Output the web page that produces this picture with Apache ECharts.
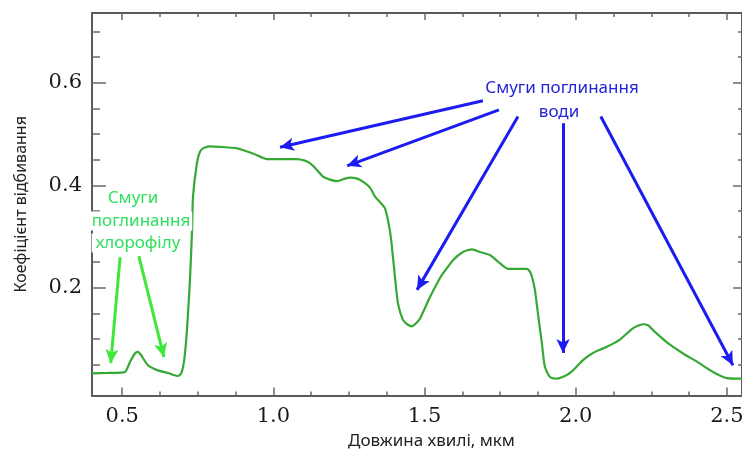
<!DOCTYPE html>
<html>
<head>
<meta charset="utf-8">
<script src="https://cdn.jsdelivr.net/npm/echarts@6/dist/echarts.min.js"></script>
<style>
html, body { margin: 0; padding: 0; background: #fff; }
#chart { width: 742px; height: 450px; }
</style>
</head>
<body>
<div id="chart"></div>
<script>
// spectrum
var wavelength = [0.400, 0.453, 0.509, 0.526, 0.542, 0.552, 0.562, 0.585, 0.618, 0.651,
    0.684, 0.694, 0.701, 0.707, 0.714, 0.724, 0.731, 0.734, 0.747, 0.757,
    0.767, 0.790, 0.823, 0.880, 0.932, 0.979, 1.022, 1.078, 1.104, 1.121,
    1.144, 1.164, 1.187, 1.210, 1.237, 1.253, 1.277, 1.296, 1.320, 1.336,
    1.353, 1.369, 1.379, 1.386, 1.392, 1.402, 1.412, 1.429, 1.445, 1.458,
    1.472, 1.485, 1.518, 1.551, 1.561, 1.594, 1.627, 1.657, 1.683, 1.716,
    1.743, 1.776, 1.809, 1.839, 1.849, 1.855, 1.865, 1.875, 1.888, 1.898,
    1.915, 1.938, 1.971, 1.991, 2.024, 2.057, 2.103, 2.146, 2.189, 2.222,
    2.239, 2.262, 2.305, 2.355, 2.401, 2.454, 2.500, 2.550];
var reflectance = [0.033, 0.034, 0.036, 0.056, 0.072, 0.075, 0.069, 0.049, 0.039, 0.034,
    0.028, 0.032, 0.045, 0.069, 0.117, 0.215, 0.313, 0.377, 0.443, 0.465,
    0.472, 0.476, 0.475, 0.472, 0.462, 0.451, 0.451, 0.451, 0.448, 0.443,
    0.430, 0.417, 0.411, 0.408, 0.413, 0.415, 0.413, 0.407, 0.395, 0.378,
    0.367, 0.355, 0.332, 0.309, 0.280, 0.222, 0.170, 0.137, 0.128, 0.125,
    0.131, 0.140, 0.182, 0.219, 0.228, 0.254, 0.270, 0.275, 0.270, 0.264,
    0.251, 0.237, 0.237, 0.237, 0.231, 0.222, 0.196, 0.150, 0.092, 0.046,
    0.026, 0.023, 0.030, 0.039, 0.059, 0.073, 0.085, 0.099, 0.121, 0.129,
    0.127, 0.114, 0.092, 0.072, 0.056, 0.036, 0.024, 0.023];

var xMajor = [0.5, 1.0, 1.5, 2.0, 2.5];
var xMinor = [0.625, 0.75, 0.875, 1.125, 1.25, 1.375, 1.625, 1.75, 1.875, 2.125, 2.25, 2.375];
var yMajor = [0.2, 0.4, 0.6];
var yMinor = [0.05, 0.1, 0.15, 0.25, 0.3, 0.35, 0.45, 0.5, 0.55, 0.65, 0.7];

// arrows: [x from, y from, x to, y to] in data units
var waterArrows = [
    [1.693, 0.565, 1.022, 0.474],
    [1.746, 0.547, 1.244, 0.438],
    [1.809, 0.534, 1.475, 0.196],
    [1.958, 0.521, 1.958, 0.073],
    [2.083, 0.534, 2.520, 0.049]
];
var chloroArrows = [
    [0.493, 0.260, 0.462, 0.053],
    [0.555, 0.262, 0.638, 0.065]
];
var waterLabel = ['Смуги поглинання', 'води'];
var chloroLabel = ['Смуги', 'поглинання', 'хлорофілу'];

var XMIN = 0.4, XMAX = 2.55, YMIN = -0.01, YMAX = 0.736;
var axisCol = '#5a5a5a', tickCol = '#6a6a6a';
var numFont = { color: '#1a1a1a', fontFamily: 'DejaVu Serif', fontSize: 21 };

function xAx(pos, ticks, len, withLine, withLabel) {
    return {
        type: 'value', position: pos, min: XMIN, max: XMAX,
        splitLine: { show: false },
        axisLine: { show: withLine, onZero: false, lineStyle: { color: axisCol, width: 2 } },
        axisTick: { show: true, inside: true, length: len, customValues: ticks,
            lineStyle: { color: tickCol, width: 1.5 } },
        axisLabel: withLabel ? Object.assign({ customValues: ticks, margin: 11,
            formatter: function (v) { return v.toFixed(1); } }, numFont) : { show: false }
    };
}
function yAx(pos, ticks, len, withLine, withLabel) {
    return {
        type: 'value', position: pos, min: YMIN, max: YMAX,
        splitLine: { show: false },
        axisLine: { show: withLine, onZero: false, lineStyle: { color: axisCol, width: 2 } },
        axisTick: { show: true, inside: true, length: len, customValues: ticks,
            lineStyle: { color: tickCol, width: 1.5 } },
        axisLabel: withLabel ? Object.assign({ customValues: ticks, margin: 10,
            formatter: function (v) { return v.toFixed(1); } }, numFont) : { show: false }
    };
}

var xAxes = [
    xAx('bottom', xMajor, 8, true, true),
    xAx('bottom', xMinor, 4, false, false),
    xAx('top', xMajor, 7, true, false),
    xAx('top', xMinor, 4, false, false)
];
xAxes[0].name = 'Довжина хвилі, мкм';
xAxes[0].nameLocation = 'middle';
xAxes[0].nameGap = 37;
xAxes[0].nameTextStyle = { color: '#222', fontFamily: 'Noto Sans', fontSize: 17, padding: [0, 0, 0, 29] };

var yAxes = [
    yAx('left', yMajor, 14, true, true),
    yAx('left', yMinor, 8, false, false),
    yAx('right', yMajor, 9, true, false),
    yAx('right', yMinor, 4, false, false)
];
yAxes[0].name = 'Коефіцієнт відбивання';
yAxes[0].nameLocation = 'middle';
yAxes[0].nameGap = 63;
yAxes[0].nameTextStyle = { color: '#222', fontFamily: 'Noto Sans', fontSize: 16 };

var points = wavelength.map(function (w, i) { return [w, reflectance[i]]; });

function arrowLines(list, color) {
    return list.map(function (a) {
        return [
            { coord: [a[0], a[1]], lineStyle: { color: color, width: 3, type: 'solid' } },
            { coord: [a[2], a[3]] }
        ];
    });
}

var chart = echarts.init(document.getElementById('chart'));
var option = {
    animation: false,
    grid: { left: 92, right: 0, top: 13, bottom: 54.5, outerBoundsMode: 'none' },
    xAxis: xAxes,
    yAxis: yAxes,
    series: [{
        type: 'line',
        xAxisIndex: 0,
        yAxisIndex: 0,
        data: points,
        showSymbol: false,
        smooth: 0.2,
        lineStyle: { color: '#36a836', width: 2.2 },
        markLine: {
            silent: true,
            symbol: ['none', 'arrow'],
            symbolSize: [10, 14],
            label: { show: false },
            emphasis: { disabled: true },
            data: arrowLines(waterArrows, '#1c1cf0').concat(arrowLines(chloroArrows, '#3ee83a'))
        }
    }],
    graphic: [
        { type: 'text', z: 100, x: 562, y: 88,
          style: { text: waterLabel[0], align: 'center', verticalAlign: 'middle',
                   fill: '#2424d8', font: '17px "Noto Sans"' } },
        { type: 'text', z: 100, x: 559, y: 112,
          style: { text: waterLabel[1], align: 'center', verticalAlign: 'middle',
                   fill: '#2424d8', font: '17px "Noto Sans"' } },
        { type: 'text', z: 100, x: 133, y: 198,
          style: { text: chloroLabel[0], align: 'center', verticalAlign: 'middle',
                   fill: '#2ee05e', font: '17px "Noto Sans"' } },
        { type: 'text', z: 100, x: 141, y: 221,
          style: { text: chloroLabel[1], align: 'center', verticalAlign: 'middle',
                   fill: '#2ee05e', font: '17px "Noto Sans"',
                   backgroundColor: '#fff', padding: [1, 2] } },
        { type: 'text', z: 100, x: 138, y: 243,
          style: { text: chloroLabel[2], align: 'center', verticalAlign: 'middle',
                   fill: '#2ee05e', font: '17px "Noto Sans"',
                   backgroundColor: '#fff', padding: [1, 4] } }
    ]
};
chart.setOption(option);
</script>
</body>
</html>
